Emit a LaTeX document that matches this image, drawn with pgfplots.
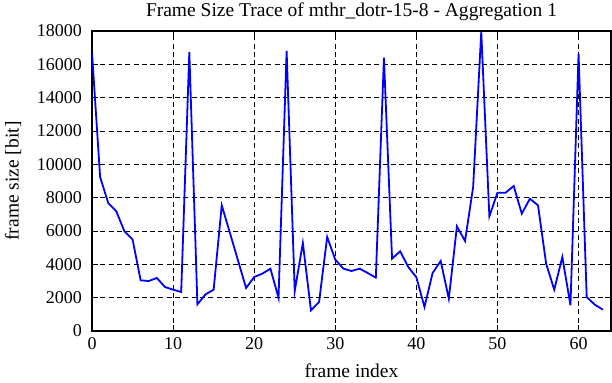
\documentclass[border=0pt]{standalone}
\usepackage{fontspec}
\setmainfont{Liberation Serif}
\usepackage{pgfplots}
\pgfplotsset{compat=1.18}
\begin{document}
\begin{tikzpicture}
\begin{axis}[
  scale only axis,
  width=519bp, height=300bp,
  xmin=0, xmax=64, ymin=0, ymax=18000,
  xtick={0,10,...,60},
  ytick={0,2000,...,18000},
  scaled y ticks=false,
  /pgf/number format/assume math mode=true,
  /pgf/number format/1000 sep={},
  xticklabel={\pgfmathprintnumber{\tick}},
  yticklabel={\pgfmathprintnumber{\tick}},
  tick label style={font=\fontsize{18bp}{21bp}\selectfont, inner sep=0pt},
  yticklabel style={anchor=east, xshift=-10bp},
  xticklabel style={anchor=north, yshift=-6bp},
  label style={font=\fontsize{19.5bp}{22bp}\selectfont, inner sep=0pt},
  title style={font=\fontsize{19.5bp}{22bp}\selectfont, inner sep=0pt,
    at={(axis description cs:0.5,1.0433)}, anchor=center, yshift=0pt},
  title={Frame Size Trace of mthr\_dotr-15-8 - Aggregation 1},
  xlabel={frame index},
  ylabel={frame size [bit]},
  xlabel style={at={(axis description cs:0.5,-0.1333)}, anchor=center},
  ylabel style={at={(axis description cs:-0.1522,0.5)}, anchor=center},
  grid=major,
  major grid style={black, dash pattern=on 5bp off 3.3bp, line width=0.8bp},
  axis line style={black, line width=1.3bp},
  tick style={black, line width=1bp},
  tick align=inside,
  major tick length=6bp,
  clip=true,
]
\addplot[color={rgb,255:red,0;green,0;blue,255}, line width=1.8bp, mark=none] coordinates {
(0,16700) (1,9240) (2,7680) (3,7180) (4,5980) (5,5500) (6,3040) (7,3000)
(8,3180) (9,2640) (10,2480) (11,2340) (12,16740) (13,1600) (14,2200) (15,2480)
(16,7540) (17,5900) (18,4240) (19,2580) (20,3240) (21,3440) (22,3740) (23,2000)
(24,16800) (25,2400) (26,5280) (27,1240) (28,1740) (29,5640) (30,4280) (31,3740)
(32,3600) (33,3740) (34,3480) (35,3200) (36,16400) (37,4340) (38,4780) (39,3840)
(40,3220) (41,1440) (42,3480) (43,4200) (44,1940) (45,6280) (46,5400) (47,8640)
(48,17950) (49,6880) (50,8300) (51,8300) (52,8700) (53,7040) (54,7940) (55,7540)
(56,4040) (57,2480) (58,4440) (59,1540) (60,16640) (61,2040) (62,1580) (63,1280)
};
\end{axis}
\pgfresetboundingbox
\path[use as bounding box] ([xshift=-92bp,yshift=-51bp]current axis.south west) rectangle ([xshift=1bp,yshift=31bp]current axis.north east);
\end{tikzpicture}
\end{document}
